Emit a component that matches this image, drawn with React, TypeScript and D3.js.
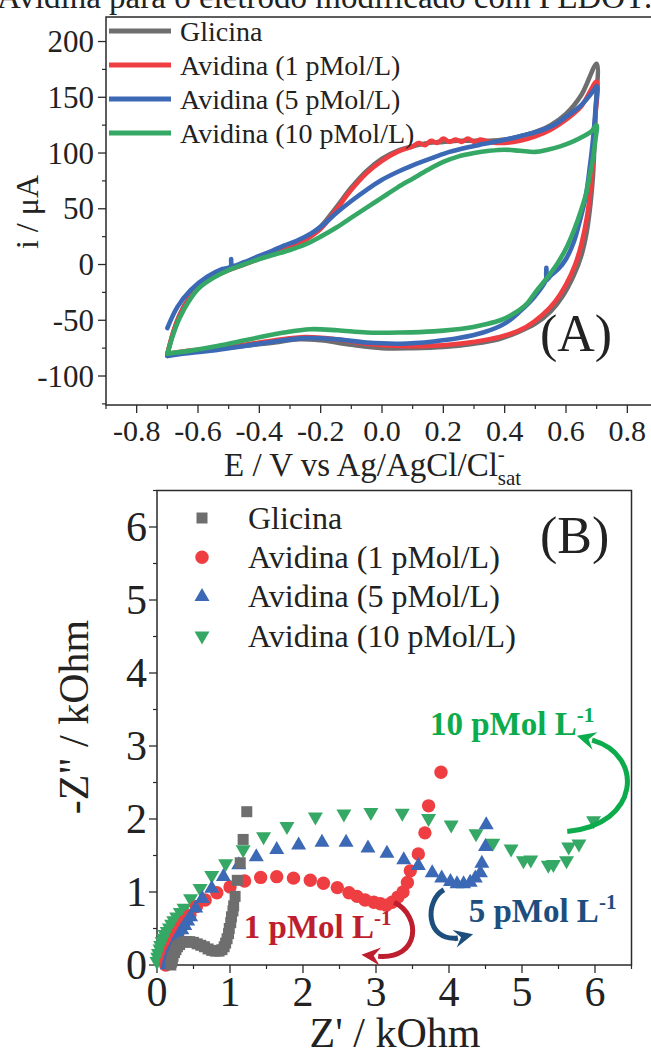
import React from "react";
import * as d3 from "d3";

// ---------- Panel A: cyclic voltammetry (E / V, i / µA) ----------
const cvGlicina: [number, number][] = [
  [-0.70, -81], [-0.68, -60], [-0.66, -45], [-0.63, -30], [-0.60, -20], [-0.55, -10], [-0.50, -4],
  [-0.45, 1], [-0.40, 6], [-0.35, 11], [-0.30, 16], [-0.25, 23], [-0.20, 34], [-0.15, 51],
  [-0.10, 69], [-0.05, 84], [0.00, 95], [0.05, 102], [0.10, 106], [0.15, 109],
  [0.20, 110], [0.25, 111], [0.30, 111], [0.35, 111], [0.40, 112], [0.45, 115], [0.50, 119],
  [0.55, 125], [0.60, 135], [0.65, 152], [0.70, 180],
  [0.697, 140], [0.693, 110], [0.688, 80], [0.68, 55], [0.668, 30], [0.65, 8], [0.625, -10],
  [0.59, -28], [0.55, -42], [0.50, -53], [0.44, -61], [0.38, -67], [0.30, -71], [0.20, -74],
  [0.10, -75], [0.00, -75], [-0.10, -72], [-0.20, -68], [-0.27, -67], [-0.35, -70], [-0.45, -73],
  [-0.55, -76], [-0.65, -79], [-0.70, -82],
];
const cvAvidina1: [number, number][] = [
  [-0.70, -80], [-0.68, -60], [-0.66, -46], [-0.63, -31], [-0.60, -21], [-0.55, -11], [-0.50, -5],
  [-0.45, 0], [-0.40, 5], [-0.35, 10], [-0.30, 15], [-0.25, 22], [-0.20, 32], [-0.15, 49],
  [-0.10, 67], [-0.05, 82], [0.00, 93], [0.05, 101], [0.10, 106], [0.12, 109],
  [0.14, 107], [0.16, 111], [0.18, 109], [0.20, 113], [0.22, 110], [0.24, 112], [0.26, 110],
  [0.28, 113], [0.30, 110], [0.32, 112], [0.35, 110], [0.40, 109], [0.45, 111], [0.50, 115],
  [0.55, 121], [0.60, 130], [0.65, 142], [0.70, 164],
  [0.695, 130], [0.69, 100], [0.682, 72], [0.668, 42], [0.65, 18], [0.63, 0], [0.60, -18],
  [0.565, -33], [0.52, -46], [0.47, -56], [0.41, -63], [0.35, -67], [0.25, -71], [0.15, -73],
  [0.05, -73], [-0.05, -71], [-0.15, -67], [-0.25, -65], [-0.35, -68], [-0.45, -72], [-0.55, -75],
  [-0.65, -78], [-0.70, -80],
];
const cvAvidina5: [number, number][] = [
  [-0.70, -57], [-0.667, -38], [-0.624, -23], [-0.57, -11], [-0.52, -4], [-0.494, -2], [-0.492, 5],
  [-0.489, -1], [-0.45, 2], [-0.407, 7], [-0.36, 12], [-0.32, 17], [-0.28, 21], [-0.23, 28],
  [-0.19, 36], [-0.15, 46], [-0.10, 57], [-0.05, 67], [0.00, 76], [0.05, 83], [0.10, 89],
  [0.168, 96], [0.22, 101], [0.277, 105], [0.33, 108], [0.386, 111], [0.45, 115], [0.516, 120],
  [0.56, 125], [0.603, 133], [0.65, 143], [0.69, 156], [0.70, 160],
  [0.695, 135], [0.688, 112], [0.678, 88], [0.665, 62], [0.646, 40], [0.625, 20], [0.60, 5],
  [0.575, -4], [0.55, -10], [0.537, -14], [0.536, -3], [0.534, -14], [0.50, -28], [0.45, -42],
  [0.40, -53], [0.33, -61], [0.25, -66], [0.168, -69], [0.06, -71], [-0.05, -70], [-0.15, -67],
  [-0.25, -66], [-0.35, -69], [-0.45, -73], [-0.55, -77], [-0.65, -80], [-0.70, -82],
];
const cvAvidina10: [number, number][] = [
  [-0.70, -80], [-0.68, -62], [-0.66, -48], [-0.63, -33], [-0.60, -22], [-0.55, -12], [-0.50, -5],
  [-0.45, 0], [-0.40, 5], [-0.35, 9], [-0.30, 13], [-0.25, 18], [-0.20, 25], [-0.15, 33],
  [-0.10, 42], [-0.05, 51], [0.00, 60], [0.05, 69], [0.10, 77], [0.15, 85], [0.20, 92],
  [0.25, 97], [0.30, 100], [0.35, 102], [0.40, 103], [0.45, 102], [0.50, 101], [0.54, 103],
  [0.581, 106], [0.62, 110], [0.657, 115], [0.685, 120], [0.70, 125],
  [0.695, 110], [0.688, 95], [0.679, 82], [0.665, 63], [0.646, 46], [0.625, 30], [0.603, 16],
  [0.57, 0], [0.538, -12], [0.50, -25], [0.473, -35], [0.43, -44], [0.386, -50], [0.33, -54],
  [0.277, -57], [0.168, -60], [0.06, -61], [-0.05, -61], [-0.146, -59], [-0.233, -58],
  [-0.32, -61], [-0.43, -67], [-0.537, -73], [-0.62, -77], [-0.70, -80],
];

const seriesNames = ["Glicina", "Avidina (1 pMol/L)", "Avidina (5 pMol/L)", "Avidina (10 pMol/L)"];
const lineColors = ["#6e6e6e", "#ef3e42", "#3c69b6", "#36a865"];
const markerColors = ["#6e6e6e", "#ef3e42", "#3c69b6", "#36a865"];

const xTicksA = [-0.8, -0.6, -0.4, -0.2, 0.0, 0.2, 0.4, 0.6, 0.8];
const xMinorA = [-0.9, -0.7, -0.5, -0.3, -0.1, 0.1, 0.3, 0.5, 0.7];
const yTicksA = [-100, -50, 0, 50, 100, 150, 200];
const yMinorA = [-125, -75, -25, 25, 75, 125, 175];

// ---------- Panel B: Nyquist (Z' / kOhm, -Z'' / kOhm) ----------
const nyGlicina: [number, number][] = [
  [0.19, 0.0], [0.20, 0.04], [0.21, 0.08], [0.22, 0.12], [0.24, 0.17], [0.26, 0.21], [0.28, 0.25],
  [0.31, 0.28], [0.35, 0.31], [0.40, 0.32], [0.45, 0.32], [0.50, 0.31], [0.55, 0.29], [0.60, 0.27],
  [0.65, 0.25], [0.70, 0.22], [0.75, 0.20], [0.80, 0.19], [0.85, 0.19], [0.89, 0.21], [0.92, 0.25],
  [0.94, 0.30], [0.96, 0.36], [0.98, 0.43], [0.99, 0.50], [1.01, 0.58], [1.02, 0.66], [1.04, 0.74],
  [1.05, 0.81], [1.07, 0.94], [1.10, 1.16], [1.14, 1.40], [1.18, 1.72], [1.23, 2.10],
];
const nyAvidina1: [number, number][] = [
  [0.12, 0.0], [0.13, 0.05], [0.15, 0.11], [0.17, 0.17], [0.19, 0.23], [0.22, 0.30], [0.25, 0.37],
  [0.29, 0.45], [0.33, 0.52], [0.38, 0.60], [0.45, 0.68], [0.54, 0.80], [0.66, 0.89], [0.82, 0.99],
  [1.00, 1.07], [1.20, 1.15], [1.42, 1.20], [1.64, 1.21], [1.87, 1.19], [2.10, 1.16], [2.28, 1.12],
  [2.47, 1.06], [2.63, 0.99], [2.74, 0.94], [2.85, 0.89], [2.97, 0.86], [3.06, 0.84], [3.14, 0.82],
  [3.22, 0.86], [3.30, 0.93], [3.37, 1.00], [3.43, 1.13], [3.47, 1.29], [3.58, 1.52], [3.67, 1.81],
  [3.72, 2.18], [3.89, 2.64],
];
const nyAvidina5: [number, number][] = [
  [0.14, 0.0], [0.15, 0.05], [0.17, 0.11], [0.19, 0.17], [0.21, 0.23], [0.24, 0.29], [0.27, 0.35],
  [0.30, 0.41], [0.34, 0.48], [0.38, 0.54], [0.42, 0.60], [0.46, 0.66], [0.53, 0.78], [0.62, 0.91],
  [0.75, 1.05], [0.91, 1.21], [1.12, 1.37], [1.36, 1.48], [1.64, 1.58], [1.94, 1.64], [2.26, 1.68],
  [2.59, 1.68], [2.89, 1.60], [3.15, 1.53], [3.38, 1.44], [3.58, 1.36], [3.77, 1.26], [3.90, 1.19],
  [4.02, 1.14], [4.11, 1.11], [4.20, 1.11], [4.29, 1.13], [4.36, 1.19], [4.43, 1.26], [4.45, 1.39],
  [4.50, 1.62], [4.51, 1.92],
];
const nyAvidina10: [number, number][] = [
  [0.0, 0.05], [0.01, 0.11], [0.02, 0.16], [0.04, 0.22], [0.05, 0.27], [0.07, 0.32], [0.09, 0.37],
  [0.11, 0.42], [0.14, 0.46], [0.17, 0.51], [0.20, 0.56], [0.23, 0.61], [0.27, 0.66], [0.32, 0.72],
  [0.37, 0.78], [0.46, 0.91], [0.59, 1.05], [0.75, 1.23], [0.94, 1.39], [1.18, 1.58], [1.46, 1.76],
  [1.78, 1.90], [2.17, 2.03], [2.56, 2.07], [2.93, 2.09], [3.36, 2.08], [3.72, 2.01], [4.03, 1.92],
  [4.37, 1.80], [4.60, 1.67], [4.85, 1.59], [5.02, 1.43], [5.12, 1.44], [5.36, 1.37], [5.43, 1.38],
  [5.61, 1.43], [5.64, 1.62], [5.78, 1.66], [5.98, 1.98],
];

const xTicksB = [0, 1, 2, 3, 4, 5, 6];
const xMinorB = [0.5, 1.5, 2.5, 3.5, 4.5, 5.5, 6.5];
const yTicksB = [0, 1, 2, 3, 4, 5, 6];
const yMinorB = [0.5, 1.5, 2.5, 3.5, 4.5, 5.5, 6.5];

// annotations (data coordinates of panel B)
const annotLabels = ["10 pMol L", "5 pMol L", "1 pMol L"];
const annotColors = ["#0cab4c", "#1d4e7d", "#be1e2d"];
const annotTextPos: [number, number][] = [[3.74, 3.15], [4.27, 0.59], [1.19, 0.37]];
// arrow: start, control1, control2, end, tip
const annotArrows: [number, number][][] = [
  [[5.62, 1.83], [6.62, 1.92], [6.68, 2.88], [5.96, 3.08], [5.75, 3.14]],
  [[3.93, 1.03], [3.67, 0.89], [3.67, 0.32], [4.12, 0.37], [4.33, 0.42]],
  [[3.25, 0.86], [3.63, 0.67], [3.60, 0.07], [3.03, 0.12], [2.80, 0.14]],
];

const FONT = "'Liberation Serif', 'Times New Roman', Times, serif";

function triPath(cx: number, cy: number, w: number, h: number, up: boolean) {
  if (up) return `M${cx},${cy - (2 * h) / 3}L${cx + w / 2},${cy + h / 3}L${cx - w / 2},${cy + h / 3}Z`;
  return `M${cx},${cy + (2 * h) / 3}L${cx + w / 2},${cy - h / 3}L${cx - w / 2},${cy - h / 3}Z`;
}

function Marker({ kind, x, y, color }: { kind: number; x: number; y: number; color: string }) {
  if (kind === 0) return <rect x={x - 5.5} y={y - 5.5} width={11} height={11} fill={color} />;
  if (kind === 1) return <circle cx={x} cy={y} r={6.7} fill={color} />;
  if (kind === 2) return <path d={triPath(x, y, 15, 13, true)} fill={color} />;
  return <path d={triPath(x, y, 15, 13, false)} fill={color} />;
}

export default function App() {
  // Panel A scales
  const xA = d3.scaleLinear().domain([-0.9, 0.9]).range([106, 658]);
  const yA = d3.scaleLinear().domain([-126, 222]).range([405, 17]);
  // Panel B scales
  const xB = d3.scaleLinear().domain([0, 6.5]).range([157, 631.5]);
  const yB = d3.scaleLinear().domain([0, 6.5]).range([965, 490.5]);

  const lineA = d3
    .line<[number, number]>()
    .x((d) => xA(d[0]))
    .y((d) => yA(d[1]))
    .curve(d3.curveCatmullRom.alpha(0.5));

  const cvData = [cvGlicina, cvAvidina1, cvAvidina5, cvAvidina10];
  const nyData = [nyGlicina, nyAvidina1, nyAvidina5, nyAvidina10];
  const nyOrder = [3, 1, 2, 0];

  const axisColor = "#2a2a2a";

  return (
    <svg
      width={651}
      height={1055}
      style={{ position: "absolute", left: 0, top: 0, background: "#fff", fontFamily: FONT }}
      fontFamily={FONT}
    >
      <rect x={0} y={0} width={651} height={1055} fill="#fff" />
      {/* cropped figure title */}
      <text x={-3} y={8} fontSize={33} fill="#222">
        Avidina para o eletrodo modificado com PEDOT:PSS
      </text>

      {/* ================= Panel A ================= */}
      <g>
        <rect x={106} y={17} width={552} height={388} fill="none" stroke={axisColor} strokeWidth={1.5} />
        {yTicksA.map((t) => (
          <g key={"ya" + t}>
            <line x1={98} x2={106} y1={yA(t)} y2={yA(t)} stroke={axisColor} strokeWidth={1.3} />
            <text x={94} y={yA(t)} dy="0.34em" fontSize={31} textAnchor="end" fill="#222">
              {t}
            </text>
          </g>
        ))}
        {yMinorA.map((t) => (
          <line key={"yam" + t} x1={102} x2={106} y1={yA(t)} y2={yA(t)} stroke={axisColor} strokeWidth={1.2} />
        ))}
        {xTicksA.map((t) => (
          <g key={"xa" + t}>
            <line x1={xA(t)} x2={xA(t)} y1={405} y2={413} stroke={axisColor} strokeWidth={1.3} />
            <text x={xA(t)} y={441} fontSize={30} textAnchor="middle" fill="#222">
              {t.toFixed(1)}
            </text>
          </g>
        ))}
        {xMinorA.map((t) => (
          <line key={"xam" + t} x1={xA(t)} x2={xA(t)} y1={405} y2={409} stroke={axisColor} strokeWidth={1.2} />
        ))}
        <text x={224} y={476} fontSize={33} textAnchor="start" fill="#222">
          E / V vs Ag/AgCl/Cl
          <tspan fontSize={21} dy={-15}>-</tspan>
          <tspan fontSize={21} dx={-7} dy={24}>sat</tspan>
        </text>
        <text transform="translate(38,212) rotate(-90)" fontSize={32} textAnchor="middle" fill="#222">
          i / μA
        </text>

        {cvData.map((d, i) => (
          <path
            key={"cv" + i}
            d={lineA(d) || ""}
            fill="none"
            stroke={lineColors[i]}
            strokeWidth={4.6}
            strokeLinejoin="round"
            strokeLinecap="round"
          />
        ))}

        {seriesNames.map((n, i) => (
          <g key={"lga" + i}>
            <line x1={109} x2={171} y1={31 + i * 34} y2={31 + i * 34} stroke={lineColors[i]} strokeWidth={5} />
            <text x={180} y={31 + i * 34} dy="0.34em" fontSize={28} fill="#222">
              {n}
            </text>
          </g>
        ))}
        <text x={540} y={351} fontSize={52} fill="#222">
          (A)
        </text>
      </g>

      {/* ================= Panel B ================= */}
      <g>
        <rect x={157} y={490.5} width={474.5} height={474.5} fill="none" stroke={axisColor} strokeWidth={1.5} />
        {yTicksB.map((t) => (
          <g key={"yb" + t}>
            <line x1={149} x2={157} y1={yB(t)} y2={yB(t)} stroke={axisColor} strokeWidth={1.3} />
            <text x={147} y={yB(t)} dy="0.34em" fontSize={42} textAnchor="end" fill="#222">
              {t}
            </text>
          </g>
        ))}
        {yMinorB.map((t) => (
          <line key={"ybm" + t} x1={153} x2={157} y1={yB(t)} y2={yB(t)} stroke={axisColor} strokeWidth={1.2} />
        ))}
        {xTicksB.map((t) => (
          <g key={"xb" + t}>
            <line x1={xB(t)} x2={xB(t)} y1={965} y2={973} stroke={axisColor} strokeWidth={1.3} />
            <text x={xB(t)} y={1006} fontSize={42} textAnchor="middle" fill="#222">
              {t}
            </text>
          </g>
        ))}
        {xMinorB.map((t) => (
          <line key={"xbm" + t} x1={xB(t)} x2={xB(t)} y1={965} y2={969} stroke={axisColor} strokeWidth={1.2} />
        ))}
        <text x={395} y={1047} fontSize={42} textAnchor="middle" fill="#222">
          Z' / kOhm
        </text>
        <text transform="translate(88,717) rotate(-90)" fontSize={42} textAnchor="middle" fill="#222">
          -Z" / kOhm
        </text>

        {nyOrder.map((si) => (
          <g key={"ny" + si}>
            {nyData[si].map((d, j) => (
              <Marker key={j} kind={si} x={xB(d[0])} y={yB(d[1])} color={markerColors[si]} />
            ))}
          </g>
        ))}

        {seriesNames.map((n, i) => (
          <g key={"lgb" + i}>
            <Marker kind={i} x={202} y={518 + i * 39.3} color={markerColors[i]} />
            <text x={248} y={518 + i * 39.3} dy="0.34em" fontSize={32} fill="#222">
              {n}
            </text>
          </g>
        ))}
        <text x={540} y={553} fontSize={52} fill="#222">
          (B)
        </text>

        {/* annotations */}
        {annotArrows.map((a, i) => {
          const p = a.map((q) => [xB(q[0]), yB(q[1])]);
          const [s, c1, c2, e, tip] = p;
          const ang = Math.atan2(tip[1] - e[1], tip[0] - e[0]);
          const L = 19;
          const Wd = 9;
          const bx = tip[0] - L * Math.cos(ang);
          const by = tip[1] - L * Math.sin(ang);
          const nx = -Math.sin(ang) * Wd;
          const ny = Math.cos(ang) * Wd;
          return (
            <g key={"ar" + i}>
              <path
                d={`M${s[0]},${s[1]}C${c1[0]},${c1[1]} ${c2[0]},${c2[1]} ${e[0]},${e[1]}L${bx},${by}`}
                fill="none"
                stroke={annotColors[i]}
                strokeWidth={5}
              />
              <path
                d={`M${tip[0]},${tip[1]}L${bx + nx},${by + ny}L${bx + 0.35 * (tip[0] - bx)},${by + 0.35 * (tip[1] - by)}L${bx - nx},${by - ny}Z`}
                fill={annotColors[i]}
              />
            </g>
          );
        })}
        {annotLabels.map((t, i) => (
          <text
            key={"an" + i}
            x={xB(annotTextPos[i][0])}
            y={yB(annotTextPos[i][1])}
            fontSize={33}
            fontWeight="bold"
            fill={annotColors[i]}
          >
            {t}
            <tspan fontSize={21} dy={-13}>-1</tspan>
          </text>
        ))}
      </g>
    </svg>
  );
}
